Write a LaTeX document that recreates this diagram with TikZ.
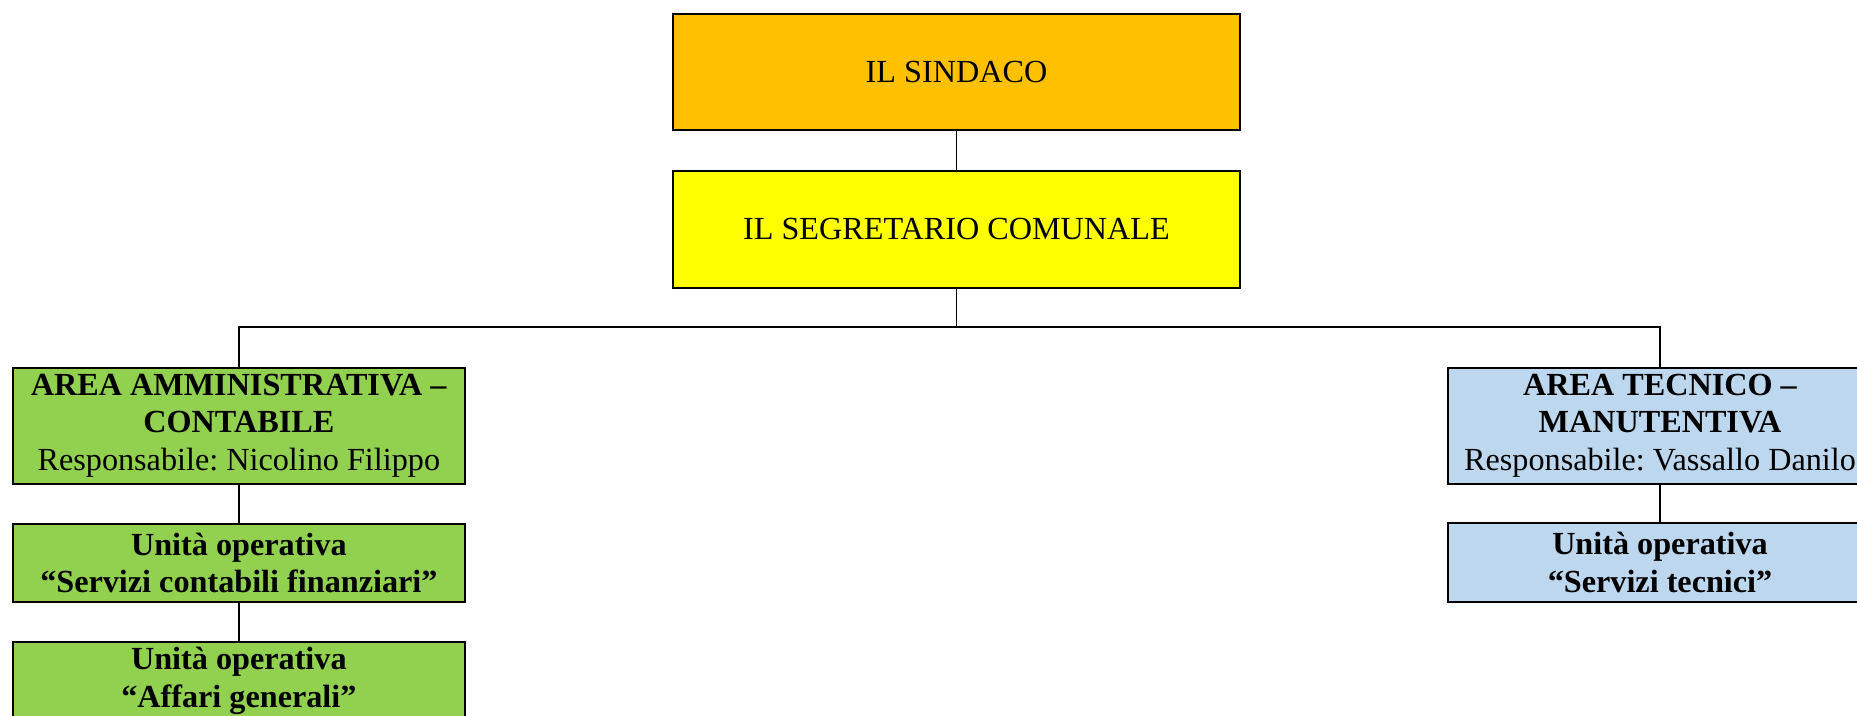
\documentclass[tikz,border=0pt]{standalone}
\usepackage{fontspec}
\setmainfont{Liberation Serif}
\frenchspacing
\definecolor{arancio}{HTML}{FFC000}
\definecolor{giallo}{HTML}{FFFF00}
\definecolor{verde}{HTML}{92D050}
\definecolor{azzurro}{HTML}{BDD7EE}
\tikzset{
	ufficio/.style={draw=black, line width=2pt, inner sep=0pt, align=center, anchor=north west, font=\fontsize{32.2}{37.7}\selectfont},
	vertice/.style={ufficio, minimum width=567.6pt, minimum height=116.6pt},
	settore/.style={ufficio},
	linea/.style={line width=1.8pt}
}
\begin{document}
\begin{tikzpicture}
	\begin{scope}[x=1pt,y=-1pt]
	\useasboundingbox (0,0) rectangle (1857,715);
	\clip (0,0) rectangle (1857,715);

	\node[vertice,fill=arancio] (sindaco) at (671.7,12.7) {IL SINDACO};
	\node[vertice,fill=giallo] (segretario) at (671.7,170) {IL SEGRETARIO COMUNALE};
	\coordinate (bus) at (0,326.7);

	\node[settore,fill=verde,minimum width=452.3pt,minimum height=116pt] (amm) at (11.7,366.7) {\textbf{AREA AMMINISTRATIVA –}\\\textbf{CONTABILE}\\Responsabile: Nicolino Filippo};
	\node[settore,fill=verde,minimum width=452.3pt,minimum height=77.4pt] (uofin) at (11.7,523.3) {\textbf{Unità operativa}\\\textbf{“Servizi contabili finanziari”}};
	\node[settore,fill=verde,minimum width=452.3pt,minimum height=77.4pt] (uoaff) at (11.7,641) {\textbf{Unità operativa}\\\textbf{“Affari generali”}};

	\node[settore,fill=azzurro,minimum width=424.6pt,minimum height=116pt] (tec) at (1446.7,366.7) {\textbf{AREA TECNICO –}\\\textbf{MANUTENTIVA}\\Responsabile: Vassallo Danilo};
	\node[settore,fill=azzurro,minimum width=424.6pt,minimum height=78.4pt] (uotec) at (1446.7,522.3) {\textbf{Unità operativa}\\\textbf{“Servizi tecnici”}};

	\draw[linea] (sindaco) -- (segretario);
	\draw[linea] (segretario.south) -- (segretario.south |- bus);
	\draw[linea] (amm.north) -- (amm.north |- bus) -- (tec.north |- bus) -- (tec.north);
	\draw[linea] (amm) -- (uofin);
	\draw[linea] (uofin) -- (uoaff);
	\draw[linea] (tec) -- (uotec);
	\end{scope}
\end{tikzpicture}
\end{document}
